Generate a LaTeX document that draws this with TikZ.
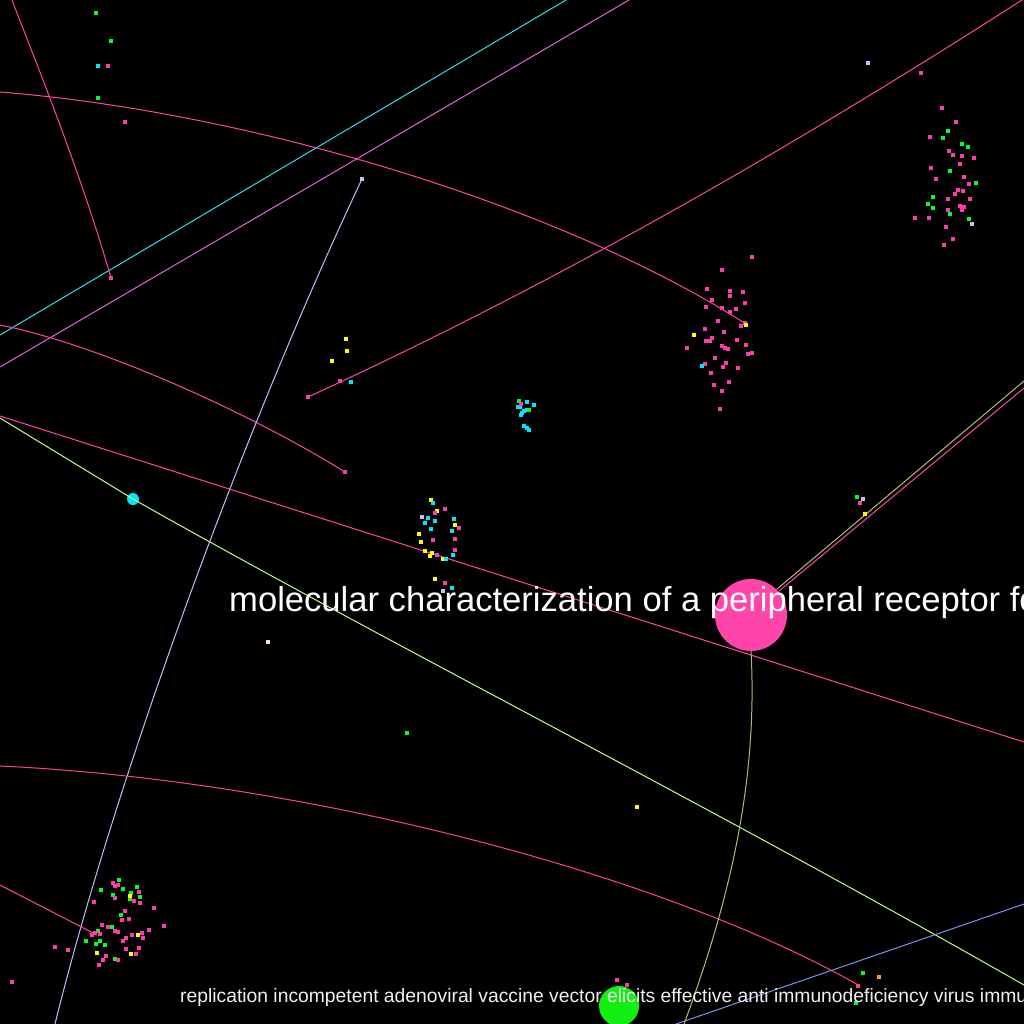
\documentclass[tikz,border=0pt]{standalone}
\usepackage{fontspec}
\setmainfont{Liberation Sans}
\definecolor{nodepink}{RGB}{255,68,170}
\definecolor{dotpink}{RGB}{255,60,170}
\definecolor{linepink}{RGB}{255,70,160}
\definecolor{linered}{RGB}{255,70,120}
\definecolor{magline}{RGB}{225,100,215}
\definecolor{cyanline}{RGB}{40,225,235}
\definecolor{dotcyan}{RGB}{0,230,255}
\definecolor{dotgreen}{RGB}{0,255,40}
\definecolor{greennode}{RGB}{17,240,17}
\definecolor{dotyellow}{RGB}{255,255,0}
\definecolor{lavender}{RGB}{200,190,255}
\definecolor{lavline}{RGB}{190,190,255}
\definecolor{ygline}{RGB}{190,255,130}
\definecolor{oliveline}{RGB}{175,190,110}
\definecolor{blueline}{RGB}{125,145,240}
\definecolor{dotorange}{RGB}{255,150,60}
\definecolor{labelgray}{RGB}{240,240,240}
\tikzset{
  edge/.style={line width=1pt},
  bignode/.style={circle, inner sep=0pt},
  lbl/.style={anchor=base west, inner sep=0pt, text=labelgray},
}
\newcommand\sq[2]{\foreach \p in {#2} \fill[#1] \p ++(-1.6,-1.6) rectangle ++(3.2,3.2);}
\begin{document}
\begin{tikzpicture}[x=1pt,y=-1pt]
\fill[black] (0,0) rectangle (1024,1024);
\useasboundingbox (0,0) rectangle (1024,1024);
\clip (0,0) rectangle (1024,1024);

% coordinates for connector ends
\coordinate (c1a) at (0,335); \coordinate (c1b) at (566,0);
\coordinate (c2a) at (0,367); \coordinate (c2b) at (629,0);
\coordinate (c3a) at (308,397); \coordinate (c3b) at (1022,0);
\coordinate (c4a) at (0,92); \coordinate (c4b) at (746,324);
\coordinate (c5a) at (12,0); \coordinate (c5b) at (111,278);
\coordinate (c6a) at (0,325); \coordinate (c6b) at (345,472);
\coordinate (c7a) at (0,416); \coordinate (c7b) at (1024,742);
\coordinate (c8a) at (0,418); \coordinate (c8b) at (1024,985);
\coordinate (c9a) at (362,179); \coordinate (c9b) at (55,1024);
\coordinate (c10a) at (0,766); \coordinate (c10b) at (860,986);
\coordinate (c11a) at (0,885); \coordinate (c11b) at (97,935);
\coordinate (c12a) at (676,1024); \coordinate (c12b) at (1024,904);
\coordinate (c13b) at (684,1024);
\coordinate (c14a) at (1024,381); \coordinate (c14b) at (1024,388);

% nodes
\node[bignode, fill=nodepink, minimum size=72pt] (big) at (751,615) {};
\node[bignode, fill=greennode, minimum size=40pt] (green) at (619,1006) {};
\node[bignode, fill=dotcyan, minimum size=12pt] (cyan) at (133,499) {};

% connectors
\draw[edge, cyanline] (c1a) -- (c1b);
\draw[edge, magline] (c2a) -- (c2b);
\draw[edge, linepink] (c3a) .. controls (548,287) and (782,154) .. (c3b);
\draw[edge, linepink] (c4a) .. controls (250,112) and (560,205) .. (c4b);
\draw[edge, linepink] (c5a) .. controls (35,60) and (80,170) .. (c5b);
\draw[edge, linepink] (c6a) .. controls (100,345) and (250,413) .. (c6b);
\draw[edge, linepink] (c7a) -- (c7b);
\draw[edge, ygline] (c8a) -- (cyan.center) .. controls (400,650) and (700,800) .. (c8b);
\draw[edge, lavline] (c9a) .. controls (244,429) and (117,774) .. (c9b);
\draw[edge, linered] (c10a) .. controls (300,780) and (660,872) .. (c10b);
\draw[edge, linepink] (c11a) -- (c11b);
\draw[edge, blueline] (c12a) -- (c12b);
\draw[edge, oliveline] (big.south) .. controls (758,780) and (730,900) .. (c13b);
\draw[edge, oliveline] (big.north east) -- (c14a);
\draw[edge, linepink] ([shift={(2,2)}]big.north east) -- (c14b);

% dots
\sq{dotpink}{(752,257),(722,270),(707,289),(730,291),(743,292),(730,296),(712,300),(745,303),(706,307),(722,308),(736,309),(730,312),(718,321),(745,323),(741,326),(705,329),(724,332),(712,338),(706,341),(710,341),(737,340),(687,348),(722,346),(725,348),(728,349),(746,345),(748,354),(752,353),(715,358),(726,363),(705,364),(723,367),(738,368),(711,373),(729,382),(714,385),(722,391),(720,409)}
\sq{dotyellow}{(746,325),(694,335)}
\sq{dotcyan}{(702,366)}

\sq{dotpink}{(942,108),(956,122),(930,137),(949,151),(953,155),(962,156),(974,158),(960,164),(931,168),(936,179),(964,177),(969,184),(958,190),(963,191),(955,194),(948,199),(970,199),(960,206),(964,207),(962,210),(948,210),(915,218),(929,218),(946,227),(953,239),(944,245),(921,73)}
\sq{dotgreen}{(948,131),(943,138),(962,144),(968,147),(950,171),(976,183),(933,197),(928,204),(933,208),(950,214),(969,219)}
\sq{lavender}{(972,224),(868,63)}

\sq{dotyellow}{(431,500),(437,511),(455,525),(419,534),(421,542),(425,551),(432,553),(430,556),(443,559),(435,579)}
\sq{dotcyan}{(433,503),(428,518),(435,521),(454,519),(425,523),(431,529),(452,531),(453,555),(446,559),(452,588)}
\sq{dotpink}{(445,509),(435,513),(459,528),(433,540),(455,539),(455,550),(437,555),(445,583)}
\sq{lavender}{(422,517),(443,591)}

\sq{dotgreen}{(119,880),(101,890),(137,887),(123,889),(131,893),(113,895),(140,897),(130,899),(121,915),(112,927),(98,931),(86,941),(100,941),(96,944),(105,945),(115,959)}
\sq{dotpink}{(113,883),(118,885),(115,886),(139,892),(115,898),(134,901),(140,903),(94,902),(154,908),(125,911),(129,919),(122,920),(102,925),(108,927),(164,926),(149,930),(115,931),(118,932),(95,933),(100,934),(142,933),(132,935),(92,935),(126,938),(143,938),(123,941),(139,948),(126,949),(68,950),(136,954),(106,956),(103,960),(118,960),(99,965),(55,947),(12,982)}
\sq{dotyellow}{(130,896),(138,935),(97,953),(131,954)}

\sq{dotcyan}{(527,402),(534,405),(518,407),(520,407),(524,411),(527,410),(522,413),(521,415),(524,426),(527,428),(529,430)}
\sq{dotgreen}{(519,401),(529,410)}
\sq{dotpink}{(521,404)}

\sq{dotyellow}{(346,339),(347,351),(332,361),(637,807),(865,514)}
\sq{dotpink}{(340,381),(308,397),(111,278),(345,472),(125,122),(108,66),(860,503),(617,980),(627,985),(858,986)}
\sq{dotcyan}{(351,382),(98,66)}
\sq{dotgreen}{(96,13),(111,41),(98,98),(857,497),(407,733),(863,973),(856,1003)}
\sq{lavender}{(863,499),(362,179)}
\sq{pink!60!white}{(268,642)}
\sq{dotorange}{(879,977)}

% labels
\node[lbl, text=white, font=\fontsize{34.6}{40}\selectfont] (title) at (229,611) {molecular characterization of a peripheral receptor for};
\node[lbl, font=\fontsize{19.3}{22}\selectfont] (sub) at (180,1002) {replication incompetent adenoviral vaccine vector elicits effective anti immunodeficiency virus immunity};
\end{tikzpicture}
\end{document}
